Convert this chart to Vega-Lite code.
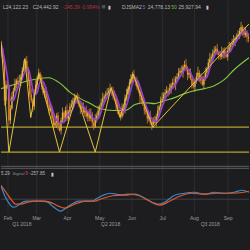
{
"$schema":"https://vega.github.io/schema/vega-lite/v6.json",
"width":250,"height":250,
"autosize":{"type":"fit","contains":"padding"},
"padding":0,
"background":"#1d1d1f",
"config":{"view":{"stroke":null},"text":{"font":"Liberation Sans","fontSize":5,"align":"left","baseline":"middle","color":"#b8b8b8"}},
"datasets":{
"candles":[
{"t":0,"o":26010,"h":26100,"l":25680,"c":25800},
{"t":1,"o":25800,"h":25950,"l":25440,"c":25500},
{"t":2,"o":25500,"h":25560,"l":24210,"c":24360},
{"t":3,"o":24360,"h":24960,"l":24270,"c":24840},
{"t":4,"o":24840,"h":25020,"l":24705,"c":24780},
{"t":5,"o":24780,"h":24855,"l":23595,"c":23760},
{"t":6,"o":23760,"h":24225,"l":23655,"c":24120},
{"t":7,"o":24120,"h":24615,"l":24075,"c":24480},
{"t":8,"o":24480,"h":24750,"l":24360,"c":24660},
{"t":9,"o":24660,"h":25020,"l":24600,"c":24870},
{"t":10,"o":24870,"h":25020,"l":24720,"c":24960},
{"t":11,"o":24960,"h":25080,"l":24810,"c":24900},
{"t":12,"o":24900,"h":25140,"l":24825,"c":24960},
{"t":13,"o":24960,"h":25155,"l":24795,"c":25080},
{"t":14,"o":25080,"h":25365,"l":24975,"c":25260},
{"t":15,"o":25260,"h":25575,"l":25215,"c":25440},
{"t":16,"o":25440,"h":25650,"l":25320,"c":25560},
{"t":17,"o":25560,"h":25710,"l":25260,"c":25320},
{"t":18,"o":25320,"h":25380,"l":24810,"c":24960},
{"t":19,"o":24960,"h":25080,"l":24450,"c":24540},
{"t":20,"o":24540,"h":24720,"l":24285,"c":24360},
{"t":21,"o":24360,"h":24435,"l":24015,"c":24180},
{"t":22,"o":24180,"h":24705,"l":24075,"c":24600},
{"t":23,"o":24600,"h":24975,"l":24555,"c":24840},
{"t":24,"o":24840,"h":25110,"l":24720,"c":25020},
{"t":25,"o":25020,"h":25320,"l":24960,"c":25170},
{"t":26,"o":25170,"h":25230,"l":24870,"c":25020},
{"t":27,"o":25020,"h":25140,"l":24690,"c":24780},
{"t":28,"o":24780,"h":24960,"l":24525,"c":24600},
{"t":29,"o":24600,"h":24735,"l":24435,"c":24660},
{"t":30,"o":24660,"h":24765,"l":24315,"c":24420},
{"t":31,"o":24420,"h":24555,"l":24195,"c":24240},
{"t":32,"o":24240,"h":24330,"l":23940,"c":24060},
{"t":33,"o":24060,"h":24270,"l":24000,"c":24120},
{"t":34,"o":24120,"h":24180,"l":23670,"c":23820},
{"t":35,"o":23820,"h":23940,"l":23520,"c":23610},
{"t":36,"o":23610,"h":23880,"l":23535,"c":23700},
{"t":37,"o":23700,"h":23985,"l":23535,"c":23910},
{"t":38,"o":23910,"h":24015,"l":23475,"c":23580},
{"t":39,"o":23580,"h":23715,"l":23415,"c":23460},
{"t":40,"o":23460,"h":23850,"l":23340,"c":23760},
{"t":41,"o":23760,"h":24150,"l":23700,"c":24000},
{"t":42,"o":24000,"h":24060,"l":23670,"c":23820},
{"t":43,"o":23820,"h":24180,"l":23730,"c":24060},
{"t":44,"o":24060,"h":24240,"l":23745,"c":23820},
{"t":45,"o":23820,"h":24075,"l":23655,"c":24000},
{"t":46,"o":24000,"h":24285,"l":23895,"c":24180},
{"t":47,"o":24180,"h":24375,"l":24135,"c":24240},
{"t":48,"o":24240,"h":24450,"l":24120,"c":24360},
{"t":49,"o":24360,"h":24570,"l":24300,"c":24420},
{"t":50,"o":24420,"h":24540,"l":24270,"c":24480},
{"t":51,"o":24480,"h":24600,"l":24270,"c":24360},
{"t":52,"o":24360,"h":24540,"l":24165,"c":24240},
{"t":53,"o":24240,"h":24315,"l":23955,"c":24120},
{"t":54,"o":24120,"h":24285,"l":24015,"c":24180},
{"t":55,"o":24180,"h":24315,"l":23955,"c":24000},
{"t":56,"o":24000,"h":24150,"l":23880,"c":24060},
{"t":57,"o":24060,"h":24210,"l":23820,"c":23880},
{"t":58,"o":23880,"h":24060,"l":23730,"c":24000},
{"t":59,"o":24000,"h":24120,"l":23730,"c":23820},
{"t":60,"o":23820,"h":24120,"l":23745,"c":23940},
{"t":61,"o":23940,"h":24015,"l":23535,"c":23700},
{"t":62,"o":23700,"h":23805,"l":23475,"c":23580},
{"t":63,"o":23580,"h":23955,"l":23535,"c":23820},
{"t":64,"o":23820,"h":24000,"l":23700,"c":23910},
{"t":65,"o":23910,"h":24210,"l":23850,"c":24060},
{"t":66,"o":24060,"h":24240,"l":23910,"c":24180},
{"t":67,"o":24180,"h":24420,"l":24090,"c":24300},
{"t":68,"o":24300,"h":24600,"l":24225,"c":24420},
{"t":69,"o":24420,"h":24555,"l":24255,"c":24480},
{"t":70,"o":24480,"h":24645,"l":24375,"c":24540},
{"t":71,"o":24540,"h":24735,"l":24495,"c":24600},
{"t":72,"o":24600,"h":24750,"l":24480,"c":24660},
{"t":73,"o":24660,"h":24870,"l":24600,"c":24720},
{"t":74,"o":24720,"h":24780,"l":24510,"c":24660},
{"t":75,"o":24660,"h":24780,"l":24390,"c":24480},
{"t":76,"o":24480,"h":24660,"l":24345,"c":24420},
{"t":77,"o":24420,"h":24495,"l":24075,"c":24240},
{"t":78,"o":24240,"h":24345,"l":23955,"c":24060},
{"t":79,"o":24060,"h":24195,"l":23895,"c":23940},
{"t":80,"o":23940,"h":24030,"l":23760,"c":23880},
{"t":81,"o":23880,"h":24270,"l":23820,"c":24120},
{"t":82,"o":24120,"h":24180,"l":23910,"c":24060},
{"t":83,"o":24060,"h":24540,"l":23970,"c":24420},
{"t":84,"o":24420,"h":24720,"l":24345,"c":24540},
{"t":85,"o":24540,"h":24795,"l":24375,"c":24720},
{"t":86,"o":24720,"h":25005,"l":24615,"c":24900},
{"t":87,"o":24900,"h":25155,"l":24855,"c":25020},
{"t":88,"o":25020,"h":25230,"l":24900,"c":25140},
{"t":89,"o":25140,"h":25290,"l":24960,"c":25020},
{"t":90,"o":25020,"h":25080,"l":24810,"c":24960},
{"t":91,"o":24960,"h":25080,"l":24690,"c":24780},
{"t":92,"o":24780,"h":24960,"l":24585,"c":24660},
{"t":93,"o":24660,"h":24735,"l":24315,"c":24480},
{"t":94,"o":24480,"h":24585,"l":24255,"c":24360},
{"t":95,"o":24360,"h":24495,"l":24195,"c":24240},
{"t":96,"o":24240,"h":24330,"l":23940,"c":24060},
{"t":97,"o":24060,"h":24210,"l":23940,"c":24000},
{"t":98,"o":24000,"h":24060,"l":23670,"c":23820},
{"t":99,"o":23820,"h":24000,"l":23730,"c":23880},
{"t":100,"o":23880,"h":24060,"l":23625,"c":23700},
{"t":101,"o":23700,"h":23775,"l":23475,"c":23640},
{"t":102,"o":23640,"h":23865,"l":23535,"c":23760},
{"t":103,"o":23760,"h":23895,"l":23655,"c":23700},
{"t":104,"o":23700,"h":23970,"l":23580,"c":23880},
{"t":105,"o":23880,"h":24210,"l":23820,"c":24060},
{"t":106,"o":24060,"h":24240,"l":23910,"c":24180},
{"t":107,"o":24180,"h":24480,"l":24090,"c":24360},
{"t":108,"o":24360,"h":24600,"l":24285,"c":24420},
{"t":109,"o":24420,"h":24615,"l":24255,"c":24540},
{"t":110,"o":24540,"h":24705,"l":24435,"c":24600},
{"t":111,"o":24600,"h":24795,"l":24555,"c":24660},
{"t":112,"o":24660,"h":24750,"l":24480,"c":24600},
{"t":113,"o":24600,"h":24870,"l":24540,"c":24720},
{"t":114,"o":24720,"h":24900,"l":24570,"c":24840},
{"t":115,"o":24840,"h":25020,"l":24750,"c":24900},
{"t":116,"o":24900,"h":25080,"l":24765,"c":24840},
{"t":117,"o":24840,"h":25095,"l":24675,"c":25020},
{"t":118,"o":25020,"h":25185,"l":24915,"c":25080},
{"t":119,"o":25080,"h":25335,"l":25035,"c":25200},
{"t":120,"o":25200,"h":25350,"l":25080,"c":25260},
{"t":121,"o":25260,"h":25410,"l":25140,"c":25200},
{"t":122,"o":25200,"h":25440,"l":25050,"c":25380},
{"t":123,"o":25380,"h":25560,"l":25290,"c":25440},
{"t":124,"o":25440,"h":25620,"l":25245,"c":25320},
{"t":125,"o":25320,"h":25395,"l":24975,"c":25140},
{"t":126,"o":25140,"h":25305,"l":25035,"c":25200},
{"t":127,"o":25200,"h":25335,"l":24975,"c":25020},
{"t":128,"o":25020,"h":25110,"l":24720,"c":24840},
{"t":129,"o":24840,"h":24990,"l":24720,"c":24780},
{"t":130,"o":24780,"h":25020,"l":24630,"c":24960},
{"t":131,"o":24960,"h":25200,"l":24870,"c":25080},
{"t":132,"o":25080,"h":25380,"l":25005,"c":25200},
{"t":133,"o":25200,"h":25275,"l":24915,"c":25080},
{"t":134,"o":25080,"h":25185,"l":24855,"c":24960},
{"t":135,"o":24960,"h":25095,"l":24795,"c":24840},
{"t":136,"o":24840,"h":25110,"l":24720,"c":25020},
{"t":137,"o":25020,"h":25350,"l":24960,"c":25200},
{"t":138,"o":25200,"h":25380,"l":25050,"c":25320},
{"t":139,"o":25320,"h":25620,"l":25230,"c":25500},
{"t":140,"o":25500,"h":25800,"l":25425,"c":25620},
{"t":141,"o":25620,"h":25755,"l":25455,"c":25680},
{"t":142,"o":25680,"h":25905,"l":25575,"c":25800},
{"t":143,"o":25800,"h":25995,"l":25755,"c":25860},
{"t":144,"o":25860,"h":26010,"l":25740,"c":25920},
{"t":145,"o":25920,"h":26070,"l":25740,"c":25800},
{"t":146,"o":25800,"h":25860,"l":25590,"c":25740},
{"t":147,"o":25740,"h":25860,"l":25590,"c":25680},
{"t":148,"o":25680,"h":25980,"l":25605,"c":25800},
{"t":149,"o":25800,"h":25935,"l":25635,"c":25860},
{"t":150,"o":25860,"h":25965,"l":25635,"c":25740},
{"t":151,"o":25740,"h":25875,"l":25635,"c":25680},
{"t":152,"o":25680,"h":25950,"l":25560,"c":25860},
{"t":153,"o":25860,"h":26130,"l":25800,"c":25980},
{"t":154,"o":25980,"h":26100,"l":25830,"c":26040},
{"t":155,"o":26040,"h":26220,"l":25950,"c":26100},
{"t":156,"o":26100,"h":26340,"l":26025,"c":26160},
{"t":157,"o":26160,"h":26295,"l":25995,"c":26220},
{"t":158,"o":26220,"h":26385,"l":26115,"c":26280},
{"t":159,"o":26280,"h":26475,"l":26235,"c":26340},
{"t":160,"o":26340,"h":26550,"l":26220,"c":26460},
{"t":161,"o":26460,"h":26730,"l":26400,"c":26580},
{"t":162,"o":26580,"h":26640,"l":26310,"c":26460},
{"t":163,"o":26460,"h":26580,"l":26250,"c":26340},
{"t":164,"o":26340,"h":26580,"l":26265,"c":26400},
{"t":165,"o":26400,"h":26475,"l":26115,"c":26280},
{"t":166,"o":26280,"h":26385,"l":26115,"c":26220}
],
"ma5":[
{"t":0,"p":26040},{"t":2,"p":25596},{"t":4,"p":25056},{"t":6,"p":24372},{"t":8,"p":24360},{"t":10,"p":24618},{"t":12,"p":24870},{"t":14,"p":25032},{"t":16,"p":25260},{"t":18,"p":25308},{"t":20,"p":24948},{"t":22,"p":24528},{"t":24,"p":24600},{"t":26,"p":24930},{"t":28,"p":24918},{"t":30,"p":24696},{"t":32,"p":24396},{"t":34,"p":24132},{"t":36,"p":23862},{"t":38,"p":23724},{"t":40,"p":23682},{"t":42,"p":23724},{"t":44,"p":23892},{"t":46,"p":23976},{"t":48,"p":24120},{"t":50,"p":24336},{"t":52,"p":24372},{"t":54,"p":24276},{"t":56,"p":24120},{"t":58,"p":24024},{"t":60,"p":23940},{"t":62,"p":23808},{"t":64,"p":23790},{"t":66,"p":23910},{"t":68,"p":24174},{"t":70,"p":24384},{"t":72,"p":24540},{"t":74,"p":24636},{"t":76,"p":24588},{"t":78,"p":24372},{"t":80,"p":24108},{"t":82,"p":24012},{"t":84,"p":24204},{"t":86,"p":24528},{"t":88,"p":24864},{"t":90,"p":25008},{"t":92,"p":24912},{"t":94,"p":24648},{"t":96,"p":24360},{"t":98,"p":24096},{"t":100,"p":23892},{"t":102,"p":23760},{"t":104,"p":23736},{"t":106,"p":23916},{"t":108,"p":24180},{"t":110,"p":24420},{"t":112,"p":24564},{"t":114,"p":24684},{"t":116,"p":24780},{"t":118,"p":24936},{"t":120,"p":25080},{"t":122,"p":25224},{"t":124,"p":25320},{"t":126,"p":25296},{"t":128,"p":25104},{"t":130,"p":24960},{"t":132,"p":24972},{"t":134,"p":25056},{"t":136,"p":25020},{"t":138,"p":25068},{"t":140,"p":25332},{"t":142,"p":25584},{"t":144,"p":25776},{"t":146,"p":25824},{"t":148,"p":25788},{"t":150,"p":25764},{"t":152,"p":25788},{"t":154,"p":25860},{"t":156,"p":26028},{"t":158,"p":26160},{"t":160,"p":26292},{"t":162,"p":26424},{"t":164,"p":26448},{"t":166,"p":26340}
],
"ma50":[
{"t":-0.33,"p":24720},{"t":13,"p":24900},{"t":24.3,"p":25020},{"t":31.7,"p":25050},{"t":39.7,"p":24870},{"t":46.3,"p":24600},{"t":53,"p":24420},{"t":59.7,"p":24270},{"t":66.3,"p":24120},{"t":75,"p":24060},{"t":83,"p":24060},{"t":89.7,"p":24240},{"t":96.3,"p":24300},{"t":103,"p":24270},{"t":109.7,"p":24360},{"t":116.3,"p":24450},{"t":123,"p":24570},{"t":129.7,"p":24660},{"t":136.3,"p":24720},{"t":143,"p":24810},{"t":149.7,"p":24990},{"t":156.3,"p":25290},{"t":166.33,"p":25650}
],
"zigzag":[
{"t":-0.33,"p":26160},{"t":5,"p":22810},{"t":15.67,"p":25620},{"t":19.67,"p":23850},{"t":25,"p":25200},{"t":39,"p":22810},{"t":50.33,"p":24510},{"t":63,"p":22810},{"t":73.67,"p":24750},{"t":79.67,"p":23850},{"t":88.33,"p":25170},{"t":101.67,"p":23560},{"t":166.33,"p":26670}
],
"months":[
{"t":4.33,"m":"Feb"},{"t":23.67,"m":"Mar"},{"t":44.33,"m":"Apr"},{"t":66,"m":"May"},{"t":87.67,"m":"Jun"},{"t":108.33,"m":"Jul"},{"t":129.67,"m":"Aug"},{"t":152.33,"m":"Sep"}
],
"quarters":[
{"t":13.67,"q":"Q1 2018"},{"t":73.33,"q":"Q2 2018"},{"t":140.33,"q":"Q3 2018"}
],
"macd":[
{"t":-0.33,"v":585,"s":"MACD"},{"t":2.33,"v":135,"s":"MACD"},{"t":5,"v":-180,"s":"MACD"},{"t":7.67,"v":-360,"s":"MACD"},{"t":10.33,"v":-315,"s":"MACD"},{"t":13,"v":-180,"s":"MACD"},{"t":16.33,"v":-90,"s":"MACD"},{"t":21,"v":-90,"s":"MACD"},{"t":26.33,"v":-90,"s":"MACD"},{"t":31,"v":-135,"s":"MACD"},{"t":34.33,"v":-315,"s":"MACD"},{"t":37,"v":-450,"s":"MACD"},{"t":39.67,"v":-540,"s":"MACD"},{"t":42.33,"v":-450,"s":"MACD"},{"t":45,"v":-315,"s":"MACD"},{"t":48.33,"v":-180,"s":"MACD"},{"t":51.67,"v":-90,"s":"MACD"},{"t":56.33,"v":-90,"s":"MACD"},{"t":61,"v":-90,"s":"MACD"},{"t":64.33,"v":45,"s":"MACD"},{"t":68.33,"v":180,"s":"MACD"},{"t":73,"v":270,"s":"MACD"},{"t":77.67,"v":225,"s":"MACD"},{"t":83,"v":180,"s":"MACD"},{"t":89.67,"v":225,"s":"MACD"},{"t":96.33,"v":45,"s":"MACD"},{"t":101,"v":-135,"s":"MACD"},{"t":105,"v":-225,"s":"MACD"},{"t":109.67,"v":-135,"s":"MACD"},{"t":116.33,"v":180,"s":"MACD"},{"t":123,"v":270,"s":"MACD"},{"t":129.67,"v":315,"s":"MACD"},{"t":136.33,"v":225,"s":"MACD"},{"t":143,"v":315,"s":"MACD"},{"t":149.67,"v":270,"s":"MACD"},{"t":156.33,"v":315,"s":"MACD"},{"t":161.67,"v":405,"s":"MACD"},{"t":166.33,"v":315,"s":"MACD"},
{"t":-0.33,"v":630,"s":"Signal"},{"t":3,"v":315,"s":"Signal"},{"t":6.33,"v":0,"s":"Signal"},{"t":9.67,"v":-225,"s":"Signal"},{"t":13,"v":-225,"s":"Signal"},{"t":17.67,"v":-135,"s":"Signal"},{"t":23,"v":-90,"s":"Signal"},{"t":29.67,"v":-90,"s":"Signal"},{"t":34.33,"v":-180,"s":"Signal"},{"t":38.33,"v":-315,"s":"Signal"},{"t":42.33,"v":-405,"s":"Signal"},{"t":46.33,"v":-315,"s":"Signal"},{"t":51,"v":-180,"s":"Signal"},{"t":56.33,"v":-90,"s":"Signal"},{"t":63,"v":-90,"s":"Signal"},{"t":66.33,"v":0,"s":"Signal"},{"t":73,"v":135,"s":"Signal"},{"t":79.67,"v":180,"s":"Signal"},{"t":85,"v":225,"s":"Signal"},{"t":91.67,"v":180,"s":"Signal"},{"t":99.67,"v":-90,"s":"Signal"},{"t":106.33,"v":-270,"s":"Signal"},{"t":113,"v":-90,"s":"Signal"},{"t":119.67,"v":135,"s":"Signal"},{"t":127.67,"v":270,"s":"Signal"},{"t":136.33,"v":225,"s":"Signal"},{"t":145,"v":270,"s":"Signal"},{"t":154.33,"v":270,"s":"Signal"},{"t":163,"v":315,"s":"Signal"},{"t":166.33,"v":360,"s":"Signal"}
]
},
"resolve":{"scale":{"y":"independent"}},
"layer":[
{"layer":[
{"data":{"name":"months"},"mark":{"type":"rule","color":"#2c2c2f","strokeWidth":1},
 "encoding":{"x":{"field":"t","type":"quantitative","scale":{"domain":[-0.3333,166.3333],"nice":false,"zero":false},"axis":null},
 "y":{"datum":27360,"type":"quantitative","scale":{"domain":[19860,27360],"nice":false,"zero":false},"axis":{"values":[23000,24000,25000,26000,27000],"labels":false,"ticks":false,"domain":false,"grid":true,"gridColor":"#2c2c2f","title":null}},
 "y2":{"datum":20940}}},
{"data":{"values":[{"lvl":23560},{"lvl":22810}]},"mark":{"type":"rule","color":"#b3a42c","strokeWidth":1.3},
 "encoding":{"y":{"field":"lvl","type":"quantitative","scale":{"domain":[19860,27360],"nice":false,"zero":false},"axis":null}}},
{"data":{"name":"ma50"},"mark":{"type":"line","color":"#86c93e","strokeWidth":1.1,"interpolate":"monotone","clip":true},
 "encoding":{"x":{"field":"t","type":"quantitative","scale":{"domain":[-0.3333,166.3333],"nice":false,"zero":false},"axis":null},
 "y":{"field":"p","type":"quantitative","scale":{"domain":[19860,27360],"nice":false,"zero":false},"axis":null}}},
{"data":{"name":"candles"},"mark":{"type":"rule","strokeWidth":0.7,"clip":true},
 "encoding":{"x":{"field":"t","type":"quantitative","scale":{"domain":[-0.3333,166.3333],"nice":false,"zero":false},"axis":null},
 "y":{"field":"l","type":"quantitative","scale":{"domain":[19860,27360],"nice":false,"zero":false},"axis":null},
 "y2":{"field":"h"},
 "color":{"condition":{"test":"datum.c >= datum.o","value":"#e3b445"},"value":"#e8852e"}}},
{"data":{"name":"candles"},"mark":{"type":"rule","strokeWidth":1.3,"clip":true},
 "encoding":{"x":{"field":"t","type":"quantitative","scale":{"domain":[-0.3333,166.3333],"nice":false,"zero":false},"axis":null},
 "y":{"field":"o","type":"quantitative","scale":{"domain":[19860,27360],"nice":false,"zero":false},"axis":null},
 "y2":{"field":"c"},
 "color":{"condition":{"test":"datum.c >= datum.o","value":"#e3b445"},"value":"#e8852e"}}},
{"data":{"name":"ma5"},"mark":{"type":"line","color":"#9a3fd4","strokeWidth":1.6,"interpolate":"monotone","clip":true},
 "encoding":{"x":{"field":"t","type":"quantitative","scale":{"domain":[-0.3333,166.3333],"nice":false,"zero":false},"axis":null},
 "y":{"field":"p","type":"quantitative","scale":{"domain":[19860,27360],"nice":false,"zero":false},"axis":null}}},
{"data":{"name":"zigzag"},"mark":{"type":"line","color":"#e2c43a","strokeWidth":1,"clip":true},
 "encoding":{"x":{"field":"t","type":"quantitative","scale":{"domain":[-0.3333,166.3333],"nice":false,"zero":false},"axis":null},
 "y":{"field":"p","type":"quantitative","scale":{"domain":[19860,27360],"nice":false,"zero":false},"axis":null}}},
{"data":{"values":[{}]},"layer":[
 {"mark":{"type":"text","text":"L24,122.23"},"encoding":{"x":{"datum":1,"type":"quantitative","scale":{"domain":[-0.3333,166.3333],"nice":false,"zero":false},"axis":null},"y":{"datum":27180,"type":"quantitative","scale":{"domain":[19860,27360],"nice":false,"zero":false},"axis":null}}},
 {"mark":{"type":"text","text":"C24,442.92"},"encoding":{"x":{"datum":21,"type":"quantitative"},"y":{"datum":27180,"type":"quantitative"}}},
 {"mark":{"type":"text","text":"-245.39 -0.994%","color":"#b5323c"},"encoding":{"x":{"datum":41,"type":"quantitative"},"y":{"datum":27180,"type":"quantitative"}}},
 {"mark":{"type":"text","text":"■","color":"#4e4e52","fontSize":7},"encoding":{"x":{"datum":67,"type":"quantitative"},"y":{"datum":27180,"type":"quantitative"}}},
 {"mark":{"type":"text","text":"▮","color":"#c8c8c8","fontSize":5},"encoding":{"x":{"datum":71.7,"type":"quantitative"},"y":{"datum":27180,"type":"quantitative"}}},
 {"mark":{"type":"text","text":"DJSMA2"},"encoding":{"x":{"datum":81,"type":"quantitative"},"y":{"datum":27180,"type":"quantitative"}}},
 {"mark":{"type":"text","text":"5","color":"#9a5bd6"},"encoding":{"x":{"datum":94.7,"type":"quantitative"},"y":{"datum":27180,"type":"quantitative"}}},
 {"mark":{"type":"text","text":"24,778.13"},"encoding":{"x":{"datum":98.3,"type":"quantitative"},"y":{"datum":27180,"type":"quantitative"}}},
 {"mark":{"type":"text","text":"50","color":"#72b83a"},"encoding":{"x":{"datum":114,"type":"quantitative"},"y":{"datum":27180,"type":"quantitative"}}},
 {"mark":{"type":"text","text":"25,927.94"},"encoding":{"x":{"datum":119,"type":"quantitative"},"y":{"datum":27180,"type":"quantitative"}}},
 {"mark":{"type":"text","text":"▮","color":"#c8c8c8","fontSize":5},"encoding":{"x":{"datum":137.7,"type":"quantitative"},"y":{"datum":27180,"type":"quantitative"}}}
]}
]},
{"layer":[
{"data":{"values":[{"lvl":1485},{"lvl":1395}]},"mark":{"type":"rule","color":"#6c6c70","strokeWidth":0.8},
 "encoding":{"y":{"field":"lvl","type":"quantitative","scale":{"domain":[-2295,8955],"nice":false,"zero":false},"axis":null}}},
{"data":{"values":[{"lvl":0}]},"mark":{"type":"rule","color":"#4a4a4e","strokeWidth":0.8},
 "encoding":{"y":{"field":"lvl","type":"quantitative","scale":{"domain":[-2295,8955],"nice":false,"zero":false},"axis":null}}},
{"data":{"name":"macd"},"mark":{"type":"line","strokeWidth":1.2,"interpolate":"monotone","clip":true},
 "encoding":{"x":{"field":"t","type":"quantitative","scale":{"domain":[-0.3333,166.3333],"nice":false,"zero":false},"axis":null},
 "y":{"field":"v","type":"quantitative","scale":{"domain":[-2295,8955],"nice":false,"zero":false},"axis":null},
 "color":{"field":"s","type":"nominal","scale":{"domain":["MACD","Signal"],"range":["#3a88cc","#dd5a2e"]},"legend":null}}},
{"data":{"name":"months"},"mark":{"type":"text","align":"center","color":"#9c9c9c"},
 "encoding":{"x":{"field":"t","type":"quantitative","scale":{"domain":[-0.3333,166.3333],"nice":false,"zero":false},"axis":null},
 "y":{"datum":-855,"type":"quantitative","scale":{"domain":[-2295,8955],"nice":false,"zero":false},"axis":null},
 "text":{"field":"m"}}},
{"data":{"name":"quarters"},"mark":{"type":"text","align":"center","color":"#9c9c9c"},
 "encoding":{"x":{"field":"t","type":"quantitative","scale":{"domain":[-0.3333,166.3333],"nice":false,"zero":false},"axis":null},
 "y":{"datum":-1125,"type":"quantitative","scale":{"domain":[-2295,8955],"nice":false,"zero":false},"axis":null},
 "text":{"field":"q"}}},
{"data":{"values":[{}]},"layer":[
 {"mark":{"type":"text","text":"5.29","fontSize":4.5},"encoding":{"x":{"datum":-0.33,"type":"quantitative","scale":{"domain":[-0.3333,166.3333],"nice":false,"zero":false},"axis":null},"y":{"datum":1125,"type":"quantitative","scale":{"domain":[-2295,8955],"nice":false,"zero":false},"axis":null}}},
 {"mark":{"type":"text","text":"Signal","color":"#8e8e8e","fontSize":4.3},"encoding":{"x":{"datum":7.33,"type":"quantitative"},"y":{"datum":1125,"type":"quantitative"}}},
 {"mark":{"type":"text","text":"9","color":"#d0503a","fontSize":4.5},"encoding":{"x":{"datum":16,"type":"quantitative"},"y":{"datum":1125,"type":"quantitative"}}},
 {"mark":{"type":"text","text":"-257.85","fontSize":4.5},"encoding":{"x":{"datum":18.9,"type":"quantitative"},"y":{"datum":1125,"type":"quantitative"}}},
 {"mark":{"type":"text","text":"▮","color":"#c8c8c8","fontSize":5},"encoding":{"x":{"datum":33,"type":"quantitative"},"y":{"datum":1125,"type":"quantitative"}}}
]}
]}
]
}
